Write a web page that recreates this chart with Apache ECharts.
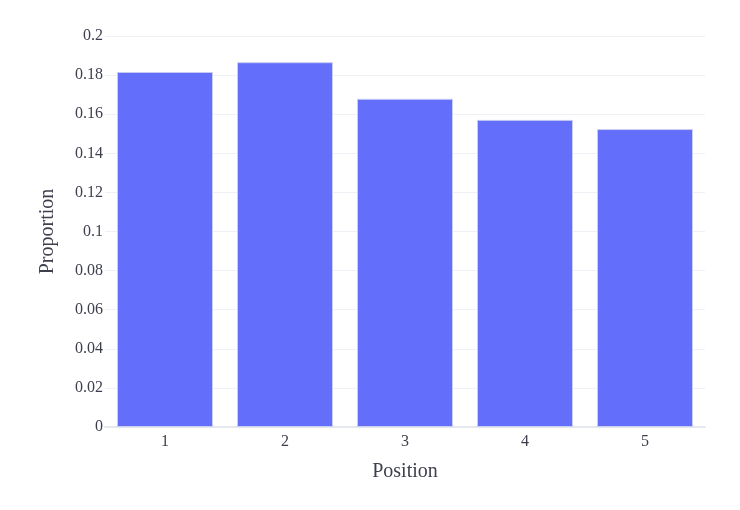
<!DOCTYPE html>
<html>
<head>
<meta charset="utf-8">
<script src="https://cdn.jsdelivr.net/npm/echarts@6/dist/echarts.min.js"></script>
<style>
html, body { margin: 0; padding: 0; background: #fff; }
#chart { width: 740px; height: 510px; }
</style>
</head>
<body>
<div id="chart"></div>
<script>
// data
var positions = ['1', '2', '3', '4', '5'];
var proportions = [0.1816, 0.1866, 0.1679, 0.1571, 0.1524];

var font = 'Liberation Serif';
var textColor = '#3d3f4c';

var myChart = echarts.init(document.getElementById('chart'));
var option = {
    animation: false,
    grid: {
        left: 105,
        right: 35,
        top: 36,
        bottom: 83
    },
    xAxis: {
        type: 'category',
        data: positions,
        name: 'Position',
        nameLocation: 'middle',
        nameGap: 35,
        nameTextStyle: { fontFamily: font, fontSize: 20, color: textColor },
        axisLine: { show: true, lineStyle: { color: '#e5e8ee', width: 2 } },
        axisTick: { show: false },
        axisLabel: { fontFamily: font, fontSize: 16, color: textColor, margin: 7 }
    },
    yAxis: {
        type: 'value',
        min: 0,
        max: 0.2,
        interval: 0.02,
        name: 'Proportion',
        nameLocation: 'middle',
        nameGap: 47,
        nameTextStyle: { fontFamily: font, fontSize: 20, color: textColor },
        axisLine: { show: false },
        axisTick: { show: false },
        splitLine: { lineStyle: { color: '#eef1f6', width: 1 } },
        axisLabel: { fontFamily: font, fontSize: 16, color: textColor, margin: 2 }
    },
    series: [{
        type: 'bar',
        data: proportions,
        barCategoryGap: '20%',
        itemStyle: {
            color: '#636efa',
            borderColor: '#c9cdf2',
            borderWidth: 1
        }
    }]
};
myChart.setOption(option);
</script>
</body>
</html>
